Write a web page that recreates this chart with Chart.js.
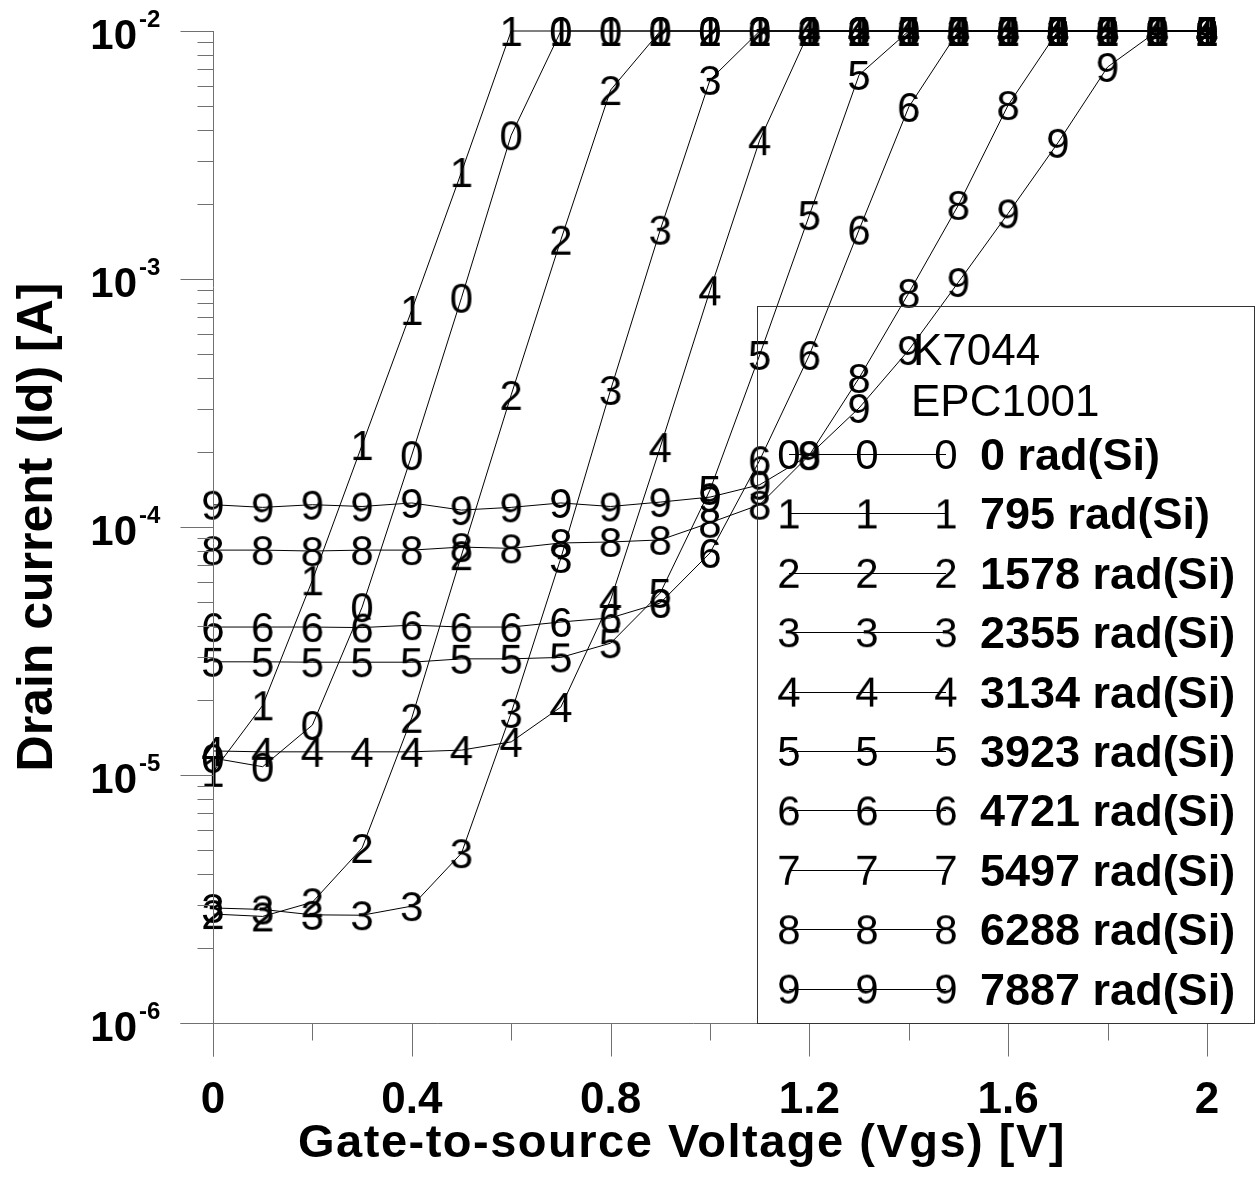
<!DOCTYPE html>
<html lang="en">
<head>
<meta charset="UTF-8">
<title>Drain current vs Gate-to-source Voltage</title>
<script src="https://cdn.jsdelivr.net/npm/chart.js@4"></script>
<style>
  html, body { margin: 0; padding: 0; background: #fff; }
  canvas { display: block; }
</style>
</head>
<body>
<canvas id="idChart" width="1259" height="1183"></canvas>
<script>
// Vgs sweep [V]
const vgs = [0, 0.1, 0.2, 0.3, 0.4, 0.5, 0.6, 0.7, 0.8, 0.9, 1.0,
             1.1, 1.2, 1.3, 1.4, 1.5, 1.6, 1.7, 1.8, 1.9, 2.0];

// Drain current [A] per total dose
const id0rad = [1.17e-5, 1.08e-5, 1.59e-5, 4.75e-5, 1.95e-4, 8.4e-4, 3.8e-3, 1e-2, 1e-2, 1e-2, 1e-2,
                1e-2, 1e-2, 1e-2, 1e-2, 1e-2, 1e-2, 1e-2, 1e-2, 1e-2, 1e-2];
const id795rad = [1.03e-5, 1.91e-5, 6.1e-5, 2.14e-4, 7.5e-4, 2.7e-3, 1e-2, 1e-2, 1e-2, 1e-2, 1e-2,
                  1e-2, 1e-2, 1e-2, 1e-2, 1e-2, 1e-2, 1e-2, 1e-2, 1e-2, 1e-2];
const id1578rad = [2.75e-6, 2.69e-6, 3.07e-6, 5.08e-6, 1.70e-5, 7.7e-5, 3.41e-4, 1.44e-3, 5.78e-3, 1e-2, 1e-2,
                   1e-2, 1e-2, 1e-2, 1e-2, 1e-2, 1e-2, 1e-2, 1e-2, 1e-2, 1e-2];
const id2355rad = [2.91e-6, 2.87e-6, 2.73e-6, 2.72e-6, 2.96e-6, 4.84e-6, 1.78e-5, 7.5e-5, 3.57e-4, 1.58e-3, 6.35e-3,
                   1e-2, 1e-2, 1e-2, 1e-2, 1e-2, 1e-2, 1e-2, 1e-2, 1e-2, 1e-2];
const id3134rad = [1.25e-5, 1.24e-5, 1.24e-5, 1.24e-5, 1.24e-5, 1.26e-5, 1.36e-5, 1.88e-5, 5.08e-5, 2.1e-4, 9.0e-4,
                   3.63e-3, 1e-2, 1e-2, 1e-2, 1e-2, 1e-2, 1e-2, 1e-2, 1e-2, 1e-2];
const id3923rad = [2.86e-5, 2.86e-5, 2.85e-5, 2.85e-5, 2.85e-5, 2.94e-5, 2.94e-5, 2.98e-5, 3.40e-5, 5.42e-5, 1.41e-4,
                   4.94e-4, 1.81e-3, 6.65e-3, 1e-2, 1e-2, 1e-2, 1e-2, 1e-2, 1e-2, 1e-2];
const id4721rad = [3.95e-5, 3.95e-5, 3.95e-5, 3.93e-5, 4.02e-5, 3.95e-5, 3.95e-5, 4.14e-5, 4.3e-5, 4.94e-5, 7.86e-5,
                   1.86e-4, 4.94e-4, 1.58e-3, 4.94e-3, 1e-2, 1e-2, 1e-2, 1e-2, 1e-2, 1e-2];
const id5497rad = [null, null, null, null, null, null, null, null, null, null, null,
                   null, null, null, null, null, null, null, null, null, null];
const id6288rad = [8.07e-5, 8.07e-5, 8.0e-5, 8.07e-5, 8.07e-5, 8.3e-5, 8.2e-5, 8.62e-5, 8.7e-5, 8.87e-5, 1.04e-4,
                   1.23e-4, 1.95e-4, 3.99e-4, 8.79e-4, 1.99e-3, 5.03e-3, 1e-2, 1e-2, 1e-2, 1e-2];
const id7887rad = [1.23e-4, 1.2e-4, 1.23e-4, 1.21e-4, 1.25e-4, 1.17e-4, 1.2e-4, 1.25e-4, 1.21e-4, 1.26e-4, 1.32e-4,
                   1.48e-4, 1.95e-4, 3.02e-4, 5.17e-4, 9.72e-4, 1.84e-3, 3.54e-3, 7.16e-3, 1e-2, 1e-2];

const seriesData = [id0rad, id795rad, id1578rad, id2355rad, id3134rad,
                    id3923rad, id4721rad, id5497rad, id6288rad, id7887rad];
const seriesNames = ['0 rad(Si)', '795 rad(Si)', '1578 rad(Si)', '2355 rad(Si)', '3134 rad(Si)',
                     '3923 rad(Si)', '4721 rad(Si)', '5497 rad(Si)', '6288 rad(Si)', '7887 rad(Si)'];
const seriesMarks = ['0', '1', '2', '3', '4', '5', '6', '7', '8', '9'];
const legendTitle = ['K7044', 'EPC1001'];

// axis ticks
const xTickValues = [0, 0.4, 0.8, 1.2, 1.6, 2];
const xTickLabels = ['0', '0.4', '0.8', '1.2', '1.6', '2'];
const xMinorValues = [0.2, 0.6, 1.0, 1.4, 1.8];
const yExponents = [-2, -3, -4, -5, -6];
const yMinorMultipliers = [2, 3, 4, 5, 6, 7, 8, 9];

const FONT = '"Liberation Sans", Arial, Helvetica, sans-serif';

// digit markers drawn as small canvases so Chart.js can use them as pointStyle
function makeMark(ch) {
  const c = document.createElement('canvas');
  c.width = 30;
  c.height = 40;
  const g = c.getContext('2d');
  g.font = '42px ' + FONT;
  g.fillStyle = '#000';
  g.textAlign = 'center';
  g.textBaseline = 'alphabetic';
  g.fillText(ch, 15, 35);
  return c;
}
const markImages = seriesMarks.map(makeMark);

const axesPlugin = {
  id: 'axesPlugin',
  afterDraw(chart) {
    const ctx = chart.ctx;
    const xs = chart.scales.x;
    const ys = chart.scales.y;
    const x0 = Math.round(xs.getPixelForValue(0)) + 0.5;
    const xEnd = xs.getPixelForValue(2);
    const yBot = Math.round(ys.getPixelForValue(1e-6)) + 0.5;
    const yTop = ys.getPixelForValue(1e-2);

    ctx.save();
    ctx.strokeStyle = '#707070';
    ctx.lineWidth = 1;
    ctx.beginPath();
    ctx.moveTo(x0, yTop);
    ctx.lineTo(x0, yBot + 33);
    ctx.moveTo(x0 - 33, yBot);
    ctx.lineTo(xEnd, yBot);

    yExponents.forEach(e => {
      const y = Math.round(ys.getPixelForValue(Math.pow(10, e))) + 0.5;
      ctx.moveTo(x0 - 33, y);
      ctx.lineTo(x0, y);
      if (e >= -2) return;
      yMinorMultipliers.forEach(m => {
        const ym = Math.round(ys.getPixelForValue(m * Math.pow(10, e))) + 0.5;
        ctx.moveTo(x0 - 16, ym);
        ctx.lineTo(x0, ym);
      });
    });
    xTickValues.forEach(v => {
      const x = Math.round(xs.getPixelForValue(v)) + 0.5;
      ctx.moveTo(x, yBot);
      ctx.lineTo(x, yBot + 33);
    });
    xMinorValues.forEach(v => {
      const x = Math.round(xs.getPixelForValue(v)) + 0.5;
      ctx.moveTo(x, yBot);
      ctx.lineTo(x, yBot + 17);
    });
    ctx.stroke();

    // tick labels
    ctx.fillStyle = '#000';
    yExponents.forEach(e => {
      const y = ys.getPixelForValue(Math.pow(10, e));
      ctx.font = 'bold 42px ' + FONT;
      ctx.textAlign = 'right';
      ctx.textBaseline = 'alphabetic';
      ctx.fillText('10', 137, y + 18);
      ctx.font = 'bold 24px ' + FONT;
      ctx.textAlign = 'left';
      ctx.fillText(String(e), 139, y - 4);
    });
    ctx.font = 'bold 44px ' + FONT;
    ctx.textAlign = 'center';
    xTickValues.forEach((v, i) => {
      ctx.fillText(xTickLabels[i], xs.getPixelForValue(v), 1113);
    });

    // axis titles
    ctx.font = 'bold 47px ' + FONT;
    ctx.letterSpacing = '1.5px';
    ctx.fillText('Gate-to-source Voltage (Vgs) [V]', 682, 1157);
    ctx.letterSpacing = '0px';
    ctx.translate(52, 527);
    ctx.rotate(-Math.PI / 2);
    ctx.font = 'bold 50px ' + FONT;
    ctx.fillText('Drain current (Id) [A]', 0, 0);
    ctx.restore();

    // legend box (transparent, curves show through)
    ctx.save();
    ctx.strokeStyle = '#333';
    ctx.lineWidth = 1;
    ctx.strokeRect(757.5, 306.5, 497, 717);
    ctx.fillStyle = '#000';
    ctx.font = '44px ' + FONT;
    ctx.textAlign = 'left';
    ctx.textBaseline = 'alphabetic';
    ctx.fillText(legendTitle[0], 913, 365);
    ctx.fillText(legendTitle[1], 911, 416);

    const markX = [789, 867, 946];
    seriesNames.forEach((name, i) => {
      const y = 454 + i * 59.4;
      ctx.strokeStyle = '#000';
      ctx.beginPath();
      ctx.moveTo(markX[0], Math.round(y) + 0.5);
      ctx.lineTo(markX[2], Math.round(y) + 0.5);
      ctx.stroke();
      const img = markImages[i];
      markX.forEach(mx => ctx.drawImage(img, mx - img.width / 2, y - img.height / 2));
      ctx.font = 'bold 45px ' + FONT;
      ctx.fillText(name, 980, y + 16);
    });
    ctx.restore();
  }
};

const datasets = seriesData.map((d, i) => ({
  label: seriesNames[i],
  data: d,
  borderColor: '#000',
  borderWidth: 1,
  backgroundColor: '#000',
  pointStyle: markImages[i],
  pointRadius: 5,
  tension: 0,
  fill: false,
  clip: false
}));

new Chart(document.getElementById('idChart'), {
  type: 'line',
  data: { labels: vgs, datasets: datasets },
  plugins: [axesPlugin],
  options: {
    responsive: false,
    animation: false,
    devicePixelRatio: 1,
    events: [],
    layout: { padding: { left: 213, right: 52, top: 31, bottom: 160 } },
    plugins: { legend: { display: false }, tooltip: { enabled: false } },
    scales: {
      x: { type: 'linear', min: 0, max: 2, display: false },
      y: { type: 'logarithmic', min: 1e-6, max: 1e-2, display: false }
    }
  }
});
</script>
</body>
</html>
